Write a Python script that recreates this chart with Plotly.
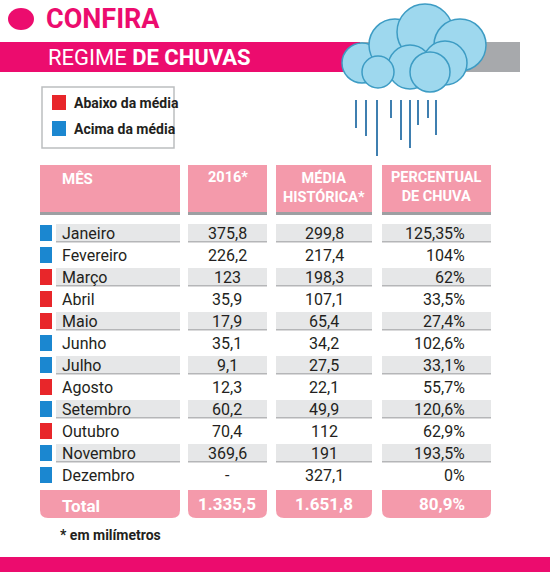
import plotly.graph_objects as go

months = ["Janeiro","Fevereiro","Março","Abril","Maio","Junho","Julho","Agosto","Setembro","Outubro","Novembro","Dezembro"]
v2016 = ["375,8","226,2","123","35,9","17,9","35,1","9,1","12,3","60,2","70,4","369,6","-"]
media = ["299,8","217,4","198,3","107,1","65,4","34,2","27,5","22,1","49,9","112","191","327,1"]
perc = ["125,35%","104%","62%","33,5%","27,4%","102,6%","33,1%","55,7%","120,6%","62,9%","193,5%","0%"]
status = ["acima","acima","abaixo","abaixo","abaixo","acima","acima","abaixo","acima","abaixo","acima","acima"]
headers = ["MÊS","2016*","MÉDIA<br>HISTÓRICA*","PERCENTUAL<br>DE CHUVA"]
totals = ["Total","1.335,5","1.651,8","80,9%"]

PINK = "#EC0C6E"; LPINK = "#F49AAB"; RED = "#E8262A"; BLUE = "#1B87D0"
GRAY = "#E6E7E8"; DGRAY = "#B5B6B8"
F = "Roboto"
cols = [(40,180),(188,267),(276,372),(382,491)]

fig = go.Figure()
shapes = []; ann = []

def rect(x0,y0,x1,y1,fill,line=None,lw=0,layer="below"):
    shapes.append(dict(type="rect",x0=x0,y0=y0,x1=x1,y1=y1,fillcolor=fill,
                       line=dict(color=line or fill,width=lw),layer=layer))

def txt(x,y,t,size,color="#231F20",bold=False,anchor="left"):
    ann.append(dict(x=x,y=y,text=f"<b>{t}</b>" if bold else t,showarrow=False,xanchor=anchor,
                    yanchor="middle",font=dict(family=F,size=size,color=color)))

# title
shapes.append(dict(type="circle",x0=8,y0=8,x1=34,y1=30,fillcolor=PINK,line=dict(width=0)))
txt(44,19,"CONFIRA",27,PINK,True)
rect(0,42,520,72,"#A7A9AC")
rect(0,42,360,72,PINK)
txt(46,57,"REGIME <b>DE CHUVAS</b>",22,"white")

# cloud
for cx,cy,r in [(362,63,20),(395,45,26),(425,32,28),(460,45,26),(445,63,22),(410,67,22),(378,72,16),(430,72,20)]:
    shapes.append(dict(type="circle",x0=cx-r,y0=cy-r,x1=cx+r,y1=cy+r,fillcolor="#9ED8EE",
                       line=dict(color="#3D9CC4",width=1.5)))
for x,y0,y1 in [(356,100,128),(366,100,136),(377,100,156),(391,100,118),(401,100,140),(410,100,148),(418,100,125),(428,100,118),(436,100,135)]:
    shapes.append(dict(type="line",x0=x,y0=y0,x1=x,y1=y1,line=dict(color="#3F7FB0",width=2)))

# legend
shapes.append(dict(type="rect",x0=42,y0=87,x1=174,y1=148,fillcolor="white",line=dict(color="#BCBEC0",width=1.5)))
rect(52,95,66,110,RED,layer="above"); rect(52,121,66,136,BLUE,layer="above")
txt(72,103,"Abaixo da média",14,bold=True)
txt(72,129,"Acima da média",14,bold=True)

# headers
for i,(x0,x1) in enumerate(cols):
    rect(x0,165,x1,212,LPINK)
    rect(x0,212,x1,215,"#9D9FA2")
    if i == 0:
        txt(60,179,headers[0],15,"white",True)
    else:
        ann.append(dict(x=(x0+x1)/2,y=167,text=f"<b>{headers[i]}</b>",showarrow=False,xanchor="center",
                        yanchor="top",font=dict(family=F,size=14.5,color="white")))

# rows
for k,m in enumerate(months):
    y = 233 + 22*k
    if k % 2 == 0:
        for j,(x0,x1) in enumerate(cols):
            a = 56 if j == 0 else x0
            rect(a,y-9,x1,y+9,GRAY)
            rect(a,y+8,x1,y+9.5,DGRAY)
    rect(40,y-8,52,y+8,BLUE if status[k]=="acima" else RED)
    txt(60,y,m,16)
    txt(227,y,v2016[k],16,anchor="center")
    txt(324,y,media[k],16,anchor="center")
    txt(467,y,perc[k],16,anchor="right")

# totals
for i,(x0,x1) in enumerate(cols):
    shapes.append(dict(type="path",path=f"M {x0},490 L {x1},490 L {x1},510 Q {x1},518 {x1-8},518 L {x0+8},518 Q {x0},518 {x0},510 Z",
                       fillcolor=LPINK,line=dict(width=0),layer="below"))
txt(60,506,totals[0],17,"white",True)
txt(227,504,totals[1],17,"white",True,"center")
txt(324,504,totals[2],17,"white",True,"center")
txt(467,504,totals[3],17,"white",True,"right")

txt(58,535,"* em milímetros",14,bold=True)
rect(0,557,550,572,PINK)

fig.update_layout(width=550,height=572,margin=dict(l=0,r=0,t=0,b=0),plot_bgcolor="white",paper_bgcolor="white",
                  shapes=shapes,annotations=ann,showlegend=False,
                  xaxis=dict(range=[0,550],visible=False,fixedrange=True),
                  yaxis=dict(range=[572,0],visible=False,fixedrange=True))
fig.write_html("out.html", config={"displayModeBar": False})
with open("out.html", encoding="utf-8") as f:
    html = f.read()
html = html.replace("<body>", '<body style="margin:0;padding:0;overflow:hidden">', 1)
with open("out.html", "w", encoding="utf-8") as f:
    f.write(html)
